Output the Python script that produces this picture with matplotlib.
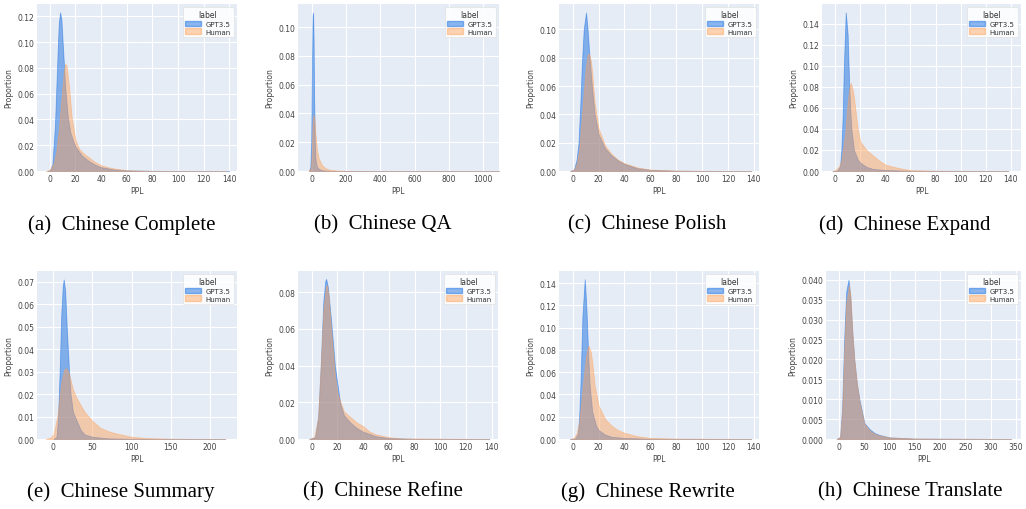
import numpy as np
import matplotlib.pyplot as plt
from matplotlib.patches import Patch

# density curves: (x, GPT3.5 y) and (x, Human y) per panel
captions = ['(a)  Chinese Complete', '(b)  Chinese QA', '(c)  Chinese Polish', '(d)  Chinese Expand',
            '(e)  Chinese Summary', '(f)  Chinese Refine', '(g)  Chinese Rewrite', '(h)  Chinese Translate']

gpt_x_a = [-2, 0, 2, 4, 6, 7, 8, 9, 10, 12, 14, 16, 18, 20, 25, 30, 35, 40, 50, 60, 80, 100, 140]
gpt_y_a = [0, 0.0005, 0.005, 0.035, 0.09, 0.115, 0.123, 0.118, 0.1, 0.065, 0.042, 0.03, 0.024, 0.019, 0.012, 0.008, 0.005, 0.003, 0.0012, 0.0005, 0.0001, 0.00005, 0]
hum_x_a = [-3, 0, 3, 5, 7, 9, 11, 12, 13, 15, 17, 20, 23, 27, 30, 35, 40, 45, 50, 60, 70, 80, 100, 138]
hum_y_a = [0, 0.001, 0.006, 0.015, 0.032, 0.055, 0.078, 0.083, 0.082, 0.065, 0.042, 0.024, 0.017, 0.013, 0.011, 0.007, 0.0045, 0.003, 0.002, 0.0006, 0.0003, 0.0001, 0.00003, 0]

gpt_x_b = [-15, -8, -3, 2, 5, 8, 11, 14, 18, 22, 30, 40, 60, 100, 200, 1090]
gpt_y_b = [0, 0.003, 0.02, 0.08, 0.108, 0.110, 0.09, 0.05, 0.02, 0.008, 0.003, 0.0015, 0.0005, 0.0001, 0.00002, 0]
hum_x_b = [-20, -5, 0, 5, 10, 15, 20, 30, 40, 60, 80, 100, 150, 200, 400, 1090]
hum_y_b = [0, 0.002, 0.012, 0.032, 0.039, 0.037, 0.028, 0.015, 0.009, 0.004, 0.002, 0.001, 0.0003, 0.0001, 0.00002, 0]

gpt_x_c = [-2, 1, 3, 4.5, 6, 7, 8.5, 10.3, 11.5, 13, 15, 17, 20, 25, 30, 35, 40, 50, 60, 80, 100, 138]
gpt_y_c = [0, 0.001, 0.008, 0.02, 0.05, 0.074, 0.1, 0.112, 0.1, 0.08, 0.058, 0.04, 0.026, 0.016, 0.011, 0.0075, 0.005, 0.002, 0.0008, 0.0002, 0.00005, 0]
hum_x_c = [-2, 1, 3, 5, 8, 10, 11.5, 12.6, 14, 15, 17, 20, 25, 30, 35, 40, 50, 60, 80, 100, 138]
hum_y_c = [0, 0.001, 0.005, 0.015, 0.05, 0.072, 0.082, 0.083, 0.078, 0.07, 0.048, 0.03, 0.018, 0.012, 0.008, 0.0055, 0.0025, 0.001, 0.0003, 0.0001, 0]

gpt_x_d = [-2, 2, 4, 5, 6, 7, 8.5, 10, 11, 12, 13, 15, 18, 20, 25, 30, 40, 60, 138]
gpt_y_d = [0, 0.0005, 0.005, 0.02, 0.05, 0.1, 0.151, 0.13, 0.09, 0.06, 0.04, 0.02, 0.011, 0.008, 0.004, 0.002, 0.001, 0.0002, 0]
hum_x_d = [-2, 0.5, 3, 5, 8, 10, 11.5, 12.5, 14, 15, 18, 20, 25, 30, 35, 40, 50, 60, 80, 138]
hum_y_d = [0, 0.001, 0.004, 0.01, 0.035, 0.065, 0.08, 0.084, 0.078, 0.07, 0.04, 0.028, 0.02, 0.015, 0.01, 0.006, 0.003, 0.0008, 0.0002, 0]

gpt_x_e = [0, 4, 6, 8, 10, 12, 13.2, 15, 17, 20, 22, 25, 30, 35, 40, 50, 70, 100, 220]
gpt_y_e = [0, 0.001, 0.01, 0.03, 0.055, 0.068, 0.0709, 0.066, 0.05, 0.03, 0.02, 0.012, 0.008, 0.004, 0.002, 0.001, 0.0003, 0.0001, 0]
hum_x_e = [-10, -4, 0, 5, 10, 14, 17, 20, 25, 30, 40, 50, 60, 70, 80, 100, 120, 150, 220]
hum_y_e = [0, 0.0005, 0.002, 0.01, 0.025, 0.031, 0.0314, 0.029, 0.022, 0.018, 0.012, 0.008, 0.005, 0.0035, 0.0025, 0.001, 0.0004, 0.0001, 0]

gpt_x_f = [-2, 2.6, 5, 7, 9, 10.5, 11.2, 12.5, 15, 18, 20, 22, 25, 30, 35, 40, 50, 60, 80, 138]
gpt_y_f = [0, 0.001, 0.012, 0.04, 0.075, 0.086, 0.0873, 0.083, 0.065, 0.04, 0.03, 0.02, 0.013, 0.009, 0.006, 0.004, 0.0015, 0.0005, 0.0001, 0]
hum_x_f = [-2, 2, 5, 7, 9, 11, 11.7, 13, 15, 18, 20, 25, 30, 35, 40, 45, 50, 60, 70, 138]
hum_y_f = [0, 0.001, 0.012, 0.04, 0.07, 0.083, 0.084, 0.079, 0.06, 0.035, 0.025, 0.015, 0.012, 0.009, 0.007, 0.004, 0.0025, 0.001, 0.0003, 0]

gpt_x_g = [-2, 2, 4, 5, 6, 7.5, 9.3, 10.5, 12, 13, 15, 18, 20, 25, 30, 40, 60, 138]
gpt_y_g = [0, 0.0005, 0.005, 0.02, 0.05, 0.11, 0.1436, 0.12, 0.075, 0.05, 0.025, 0.012, 0.008, 0.004, 0.002, 0.001, 0.0002, 0]
hum_x_g = [-2, 1, 3, 5, 8, 10, 11.5, 12.4, 14, 15, 17, 20, 25, 30, 35, 40, 50, 60, 80, 138]
hum_y_g = [0, 0.001, 0.005, 0.015, 0.05, 0.072, 0.082, 0.0838, 0.078, 0.07, 0.048, 0.03, 0.018, 0.012, 0.008, 0.0055, 0.0025, 0.001, 0.0003, 0]

gpt_x_h = [-5, 2, 6, 10, 14, 18.5, 22, 26, 30, 35, 40, 50, 60, 70, 80, 100, 150, 340]
gpt_y_h = [0, 0.0005, 0.008, 0.025, 0.037, 0.040, 0.036, 0.027, 0.02, 0.014, 0.01, 0.004, 0.0025, 0.0015, 0.001, 0.0004, 0.0001, 0]
hum_x_h = [-5, 2, 6, 10, 14, 19.8, 23, 26, 30, 35, 40, 50, 60, 70, 80, 100, 150, 340]
hum_y_h = [0, 0.0005, 0.007, 0.022, 0.034, 0.0387, 0.035, 0.027, 0.02, 0.014, 0.0095, 0.0038, 0.0022, 0.0013, 0.0009, 0.0004, 0.0001, 0]

gpt_x = [gpt_x_a, gpt_x_b, gpt_x_c, gpt_x_d, gpt_x_e, gpt_x_f, gpt_x_g, gpt_x_h]
gpt_y = [gpt_y_a, gpt_y_b, gpt_y_c, gpt_y_d, gpt_y_e, gpt_y_f, gpt_y_g, gpt_y_h]
hum_x = [hum_x_a, hum_x_b, hum_x_c, hum_x_d, hum_x_e, hum_x_f, hum_x_g, hum_x_h]
hum_y = [hum_y_a, hum_y_b, hum_y_c, hum_y_d, hum_y_e, hum_y_f, hum_y_g, hum_y_h]

xlims = [(-10, 146), (-80, 1091), (-10.6, 144), (-10.4, 148), (-21, 235), (-10.7, 145), (-10.6, 144), (-26, 360)]
ylims = [0.1295, 0.116, 0.118, 0.159, 0.0747, 0.0916, 0.151, 0.0422]
yticks = [np.arange(0, 0.121, 0.02), np.arange(0, 0.101, 0.02), np.arange(0, 0.101, 0.02), np.arange(0, 0.141, 0.02),
          np.arange(0, 0.071, 0.01), np.arange(0, 0.081, 0.02), np.arange(0, 0.141, 0.02), np.arange(0, 0.0401, 0.005)]
xticks = [range(0, 141, 20), range(0, 1001, 200), range(0, 141, 20), range(0, 141, 20),
          range(0, 201, 50), range(0, 141, 20), range(0, 141, 20), range(0, 351, 50)]
yfmt = ['%.2f'] * 7 + ['%.3f']

# axes boxes in pixels
lefts = [37, 298, 559, 822, 37, 298, 559, 826]
rights = [237, 499, 759, 1021, 237, 498, 759, 1021]
tops = [5, 5, 5, 5, 272, 272, 272, 272]
bottoms = [172, 172, 172, 172, 440, 440, 440, 440]
cap_x = [122, 383, 647, 905, 121, 383, 648, 910]
cap_y = [225, 225, 225, 225, 492, 492, 492, 492]

W, H = 1026, 510
c_gpt = '#1a6fe0'
c_hum = '#ff9f55'
bg = '#e5ecf6'
tick_col = '#444444'

fig = plt.figure(figsize=(W / 100, H / 100), dpi=100)

for i in range(8):
    ax = fig.add_axes([lefts[i] / W, 1 - bottoms[i] / H, (rights[i] - lefts[i]) / W, (bottoms[i] - tops[i]) / H])
    ax.set_facecolor(bg)
    ax.grid(color='white', linewidth=0.8)
    ax.set_axisbelow(True)
    for s in ax.spines.values():
        s.set_visible(False)
    ax.fill_between(gpt_x[i], gpt_y[i], color=c_gpt, alpha=0.5, linewidth=0.6, edgecolor=c_gpt)
    ax.fill_between(hum_x[i], hum_y[i], color=c_hum, alpha=0.45, linewidth=0.6, edgecolor=c_hum)
    ax.set_xlim(*xlims[i])
    ax.set_ylim(0, ylims[i])
    ax.set_xticks(list(xticks[i]))
    ax.set_yticks(yticks[i])
    ax.set_yticklabels([yfmt[i] % v for v in yticks[i]])
    ax.tick_params(labelsize=5.5, colors=tick_col, length=0, pad=2)
    ax.set_xlabel('PPL', fontsize=5.5, color=tick_col, labelpad=2)
    ax.set_ylabel('Proportion', fontsize=5.5, color=tick_col, labelpad=3)
    handles = [Patch(facecolor=c_gpt, alpha=0.5, edgecolor=c_gpt),
               Patch(facecolor=c_hum, alpha=0.45, edgecolor=c_hum)]
    leg = ax.legend(handles, ['GPT3.5', 'Human'], title='label', loc='upper right', fontsize=5,
                    title_fontsize=5.5, frameon=True, fancybox=True, framealpha=0.85,
                    handlelength=2.3, handleheight=0.9, handletextpad=0.6, borderpad=0.4, labelspacing=0.2)
    leg.get_frame().set_edgecolor('#dddddd')
    leg.get_frame().set_linewidth(0.5)
    for t in leg.get_texts():
        t.set_color('#333333')
    leg.get_title().set_color('#333333')
    fig.text(cap_x[i] / W, 1 - cap_y[i] / H, captions[i], ha='center', va='center',
             fontsize=15, family='Liberation Serif', color='black')

fig.savefig('out.png', dpi=100)
